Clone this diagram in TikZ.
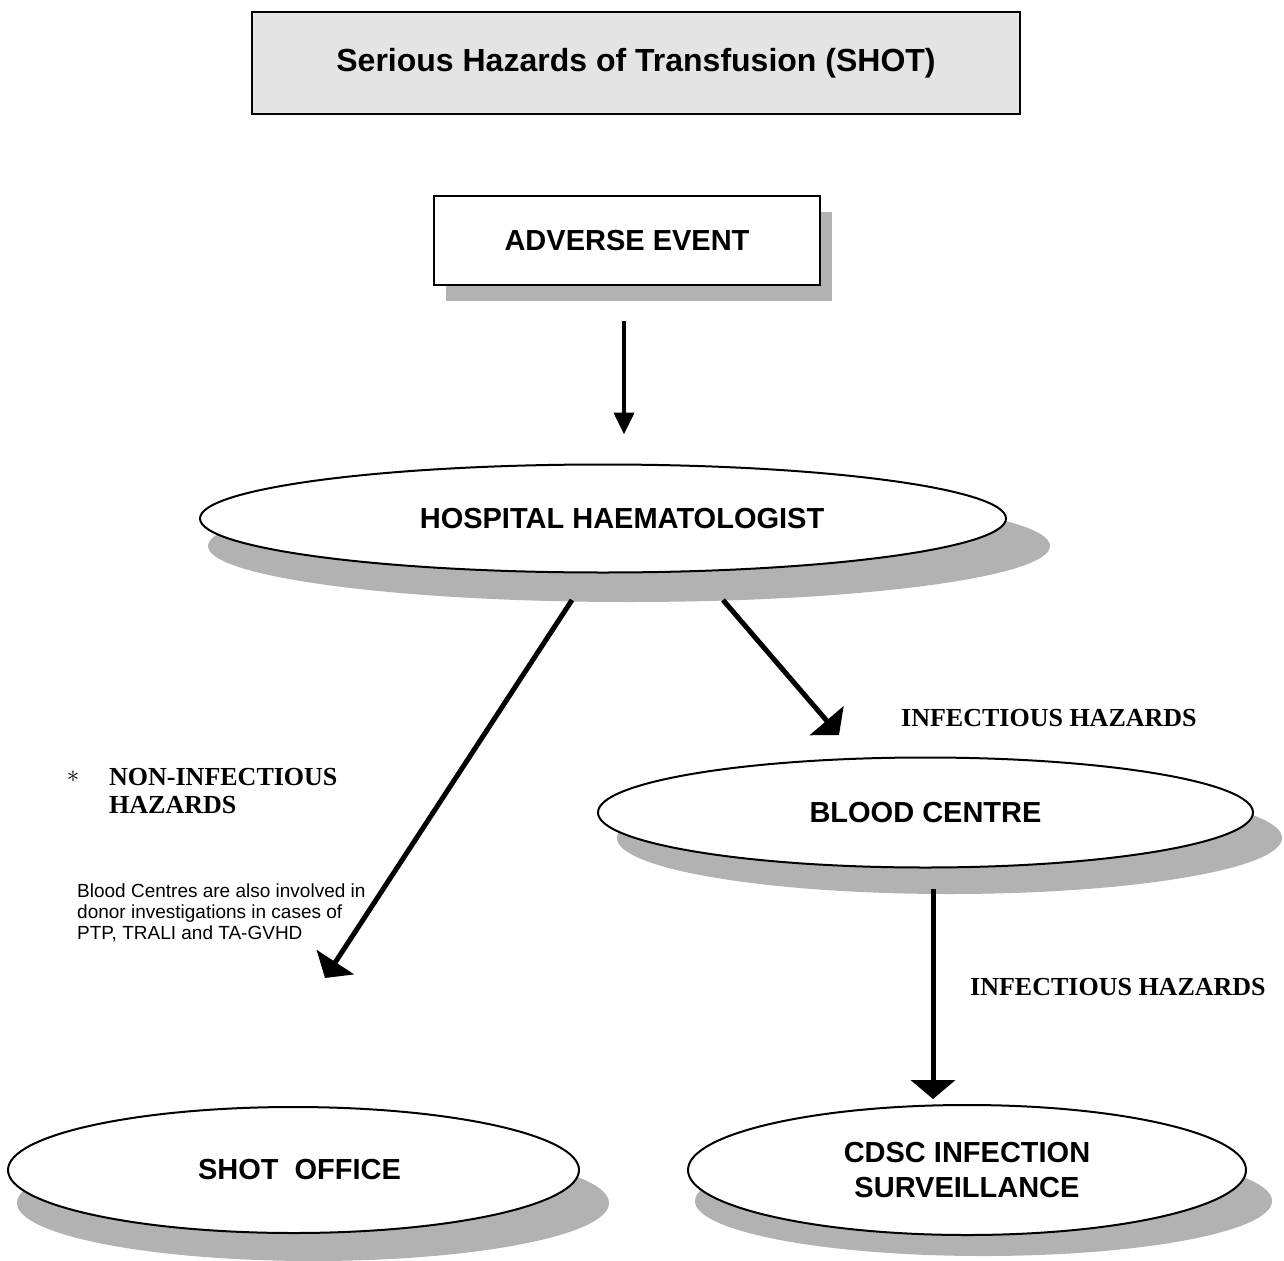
\documentclass[tikz,border=0pt]{standalone}
\usepackage{fontspec}
\setmainfont{Liberation Serif}
\setsansfont{Liberation Sans}
\usetikzlibrary{arrows.meta,shapes.geometric,calc}
\definecolor{shadowgray}{HTML}{B2B2B2}
\definecolor{titlegray}{HTML}{E4E4E4}
\begin{document}
\begin{tikzpicture}[x=1pt,y=-1pt,
  sh/.style={fill=shadowgray,draw=none},
  lbl/.style={font=\sffamily\bfseries\fontsize{29}{35}\selectfont,align=center},
  ell/.style={ellipse,draw=black,line width=2pt,fill=white,inner sep=0pt,lbl},
  arr/.style={line width=5pt,-{Triangle[width=44pt,length=19pt]}},
  arrsmall/.style={line width=4pt,-{Triangle[width=20pt,length=22pt]}},
  hz/.style={font=\rmfamily\bfseries\fontsize{26}{28}\selectfont,anchor=base west,inner sep=0pt},
  note/.style={font=\sffamily\fontsize{19}{21}\selectfont,anchor=base west,inner sep=0pt},
]
\useasboundingbox (0,0) rectangle (1284,1260);

% title
\node[draw=black,line width=2pt,fill=titlegray,minimum width=768pt,minimum height=102pt,inner sep=0pt,
      font=\sffamily\bfseries\fontsize{32}{36}\selectfont] (title) at (636,63) {Serious Hazards of Transfusion (SHOT)};

% adverse event
\fill[sh] (446,212) rectangle (832,301);
\node[draw=black,line width=2pt,fill=white,minimum width=386pt,minimum height=89pt,inner sep=0pt,lbl] (adv) at (627,240.5) {ADVERSE EVENT};

% hospital haematologist
\fill[sh] (629,546) ellipse [x radius=421pt, y radius=56pt];
\node[ell,minimum width=806pt,minimum height=108pt] (hosp) at (603,518.5) {\hspace*{38pt}HOSPITAL HAEMATOLOGIST};

% blood centre
\fill[sh] (949.5,838) ellipse [x radius=332.5pt, y radius=56pt];
\node[ell,minimum width=655pt,minimum height=110pt] (blood) at (925.5,812.5) {BLOOD CENTRE};

% shot office
\fill[sh] (313,1203) ellipse [x radius=296pt, y radius=58pt];
\node[ell,minimum width=571pt,minimum height=126pt] (shot) at (293.5,1170) {\hspace*{12pt}SHOT\ \ OFFICE};

% cdsc
\fill[sh] (983.5,1201) ellipse [x radius=288.5pt, y radius=55pt];
\node[ell,minimum width=558pt,minimum height=130pt] (cdsc) at (967,1170) {CDSC INFECTION\\SURVEILLANCE};

% connectors
\draw[arrsmall] ($(adv.south)+(-3,35)$) -- ($(hosp.north)+(21,-29)$);
\draw[arr] ($(hosp.center)+(120,81.5)$) -- ($(blood.center)+(-86.5,-77.5)$);
\draw[arr] ($(hosp.center)+(-31,81.5)$) -- ($(shot.center)+(31.5,-192)$);
\draw[arr] ($(blood.center)+(7.5,76.5)$) -- ($(cdsc.center)+(-34,-71)$);

% labels
\node[font=\fontsize{26}{26}\selectfont,inner sep=0pt] (ast) at (73,777) {$\ast$};
\node[hz] (non1) at (109,785) {NON-INFECTIOUS};
\node[hz] (non2) at (109,813) {HAZARDS};
\node[hz] (inf1) at (901,726) {INFECTIOUS HAZARDS};
\node[hz] (inf2) at (970,995) {INFECTIOUS HAZARDS};
\node[note] (n1) at (77,897) {Blood Centres are also involved in};
\node[note] (n2) at (77,918) {donor investigations in cases of};
\node[note] (n3) at (77,939) {PTP, TRALI and TA-GVHD};
\end{tikzpicture}
\end{document}
